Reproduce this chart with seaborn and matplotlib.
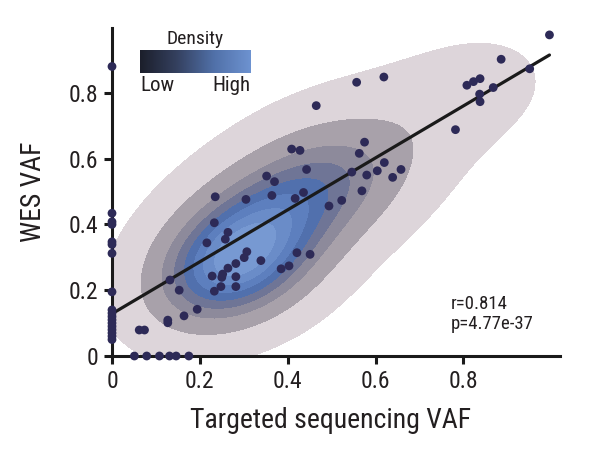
import numpy as np
import pandas as pd
import matplotlib
matplotlib.use("Agg")
import matplotlib.pyplot as plt
from matplotlib.colors import LinearSegmentedColormap
from matplotlib.cm import ScalarMappable
from matplotlib import font_manager
import seaborn as sns

# ---- data ----
targeted_vaf = [
    0, 0, 0, 0, 0, 0, 0, 0, 0, 0, 0, 0, 0, 0, 0, 0, 0, 0,
    0.051, 0.079, 0.108, 0.131, 0.146, 0.175,
    0.062, 0.074, 0.127, 0.127, 0.132, 0.153, 0.164, 0.194, 0.216,
    0.352, 0.370, 0.235, 0.305, 0.364, 0.417, 0.233, 0.264, 0.258, 0.307,
    0.301, 0.339, 0.421, 0.385, 0.403, 0.282, 0.264, 0.228, 0.252, 0.250,
    0.282, 0.248, 0.233, 0.282,
    0.465, 0.409, 0.428, 0.443, 0.575, 0.563, 0.546, 0.580, 0.604, 0.620,
    0.639, 0.658, 0.569, 0.523, 0.494, 0.436, 0.451,
    0.557, 0.619, 0.782, 0.886, 0.951, 0.996, 0.808, 0.823, 0.838, 0.868,
    0.837, 0.838,
]
wes_vaf = [
    0.88, 0.434, 0.408, 0.40, 0.347, 0.339, 0.312, 0.195, 0.14, 0.13, 0.12,
    0.11, 0.10, 0.09, 0.08, 0.07, 0.06, 0.05,
    0, 0, 0, 0, 0, 0,
    0.079, 0.079, 0.109, 0.101, 0.231, 0.200, 0.122, 0.142, 0.344,
    0.547, 0.530, 0.484, 0.476, 0.488, 0.479, 0.405, 0.376, 0.355, 0.317,
    0.299, 0.290, 0.314, 0.265, 0.274, 0.281, 0.267, 0.243, 0.249, 0.239,
    0.241, 0.211, 0.197, 0.211,
    0.761, 0.629, 0.625, 0.567, 0.650, 0.616, 0.559, 0.550, 0.563, 0.588,
    0.543, 0.567, 0.502, 0.473, 0.456, 0.497, 0.309,
    0.832, 0.848, 0.688, 0.902, 0.873, 0.976, 0.823, 0.834, 0.843, 0.816,
    0.796, 0.773,
]
x_ticks = [0, 0.2, 0.4, 0.6, 0.8]
x_tick_labels = ["0", "0.2", "0.4", "0.6", "0.8"]
y_ticks = [0, 0.2, 0.4, 0.6, 0.8]
y_tick_labels = ["0", "0.2", "0.4", "0.6", "0.8"]
stats_text = "r=0.814\np=4.77e-37"

df = pd.DataFrame({"Targeted sequencing VAF": targeted_vaf, "WES VAF": wes_vaf})
both_detected = df[(df["Targeted sequencing VAF"] > 0) & (df["WES VAF"] > 0)]

# ---- style ----
sns.set_style("ticks")
names = {f.name for f in font_manager.fontManager.ttflist}
cond = [n for n in ["Liberation Sans Narrow", "Noto Sans Condensed",
                    "DejaVu Sans Condensed", "Roboto Condensed"] if n in names]
FONT = cond + ["Roboto", "DejaVu Sans"]
plt.rcParams["font.family"] = FONT
plt.rcParams["font.stretch"] = "condensed"
TXT = "#231f20"

fig = plt.figure(figsize=(6.13, 4.5), dpi=100)
ax = fig.add_axes([112 / 613, 1 - 356 / 450, 448 / 613, 328 / 450])


def axis_aligned_bw(kde):
    # axis-aligned (diagonal) gaussian kernels
    cov = np.atleast_2d(np.cov(kde.dataset, rowvar=1))
    diag = np.diag(np.diag(cov))
    kde._data_covariance = diag
    kde._data_cho_cov = np.linalg.cholesky(diag)
    return 0.68


band_colors = ["#ddd5da", "#a8a1aa", "#8d8a9b", "#6f7596",
               "#5170ad", "#5d7fbe", "#6a8cc8", "#7799d2"]
iso_levels = [0.28, 0.56, 0.70, 0.78, 0.84, 0.89, 0.93, 0.965, 1.0]
sns.kdeplot(data=both_detected, x="Targeted sequencing VAF", y="WES VAF",
            fill=True, levels=iso_levels, bw_method=axis_aligned_bw,
            gridsize=250, color="#000000", colors=band_colors, ax=ax, zorder=1)

sns.regplot(data=df, x="Targeted sequencing VAF", y="WES VAF", scatter=False,
            ci=None, ax=ax, line_kws=dict(color="#1a1a1a", lw=2.3, zorder=2))

sns.scatterplot(data=df, x="Targeted sequencing VAF", y="WES VAF", ax=ax,
                color="#2d2a57", s=40, edgecolor="none", linewidth=0,
                clip_on=False, zorder=4)

ax.set_xlim(0, 1.02)
ax.set_ylim(0, 0.997)
ax.set_xticks(x_ticks)
ax.set_xticklabels(x_tick_labels)
ax.set_yticks(y_ticks)
ax.set_yticklabels(y_tick_labels)
sns.despine(ax=ax)
for side in ["left", "bottom"]:
    ax.spines[side].set_linewidth(2.2)
    ax.spines[side].set_color("#1a1a1a")
    ax.spines[side].set_zorder(3)
ax.tick_params(axis="both", width=2.2, length=6, color="#1a1a1a",
               labelsize=17, labelcolor=TXT, pad=4)

ax.set_xlabel("Targeted sequencing VAF", fontsize=20, color=TXT)
ax.set_ylabel("WES VAF", fontsize=20, color=TXT)
ax.xaxis.set_label_coords(0.488, -0.155)
ax.yaxis.set_label_coords(-0.145, 0.5)

ax.text(0.772, 0.185, stats_text, fontsize=13.5, color=TXT,
        ha="left", va="top", linespacing=1.15)

# ---- density colour legend ----
density_cmap = LinearSegmentedColormap.from_list(
    "density", ["#1b1e2a", "#34405f", "#5070a8", "#6d92d0"])
cax = fig.add_axes([140 / 613, 1 - 73 / 450, 111 / 613, 23 / 450])
cb = fig.colorbar(ScalarMappable(cmap=density_cmap), cax=cax,
                  orientation="horizontal")
cb.set_ticks([])
cb.outline.set_visible(False)
fig.text(195 / 613, 1 - 48 / 450, "Density", ha="center", va="bottom",
         fontsize=14, color=TXT)
fig.text(140 / 613, 1 - 76 / 450, "Low", ha="left", va="top",
         fontsize=15, color=TXT)
fig.text(250 / 613, 1 - 76 / 450, "High", ha="right", va="top",
         fontsize=15, color=TXT)

fig.savefig("out.png", dpi=100)
